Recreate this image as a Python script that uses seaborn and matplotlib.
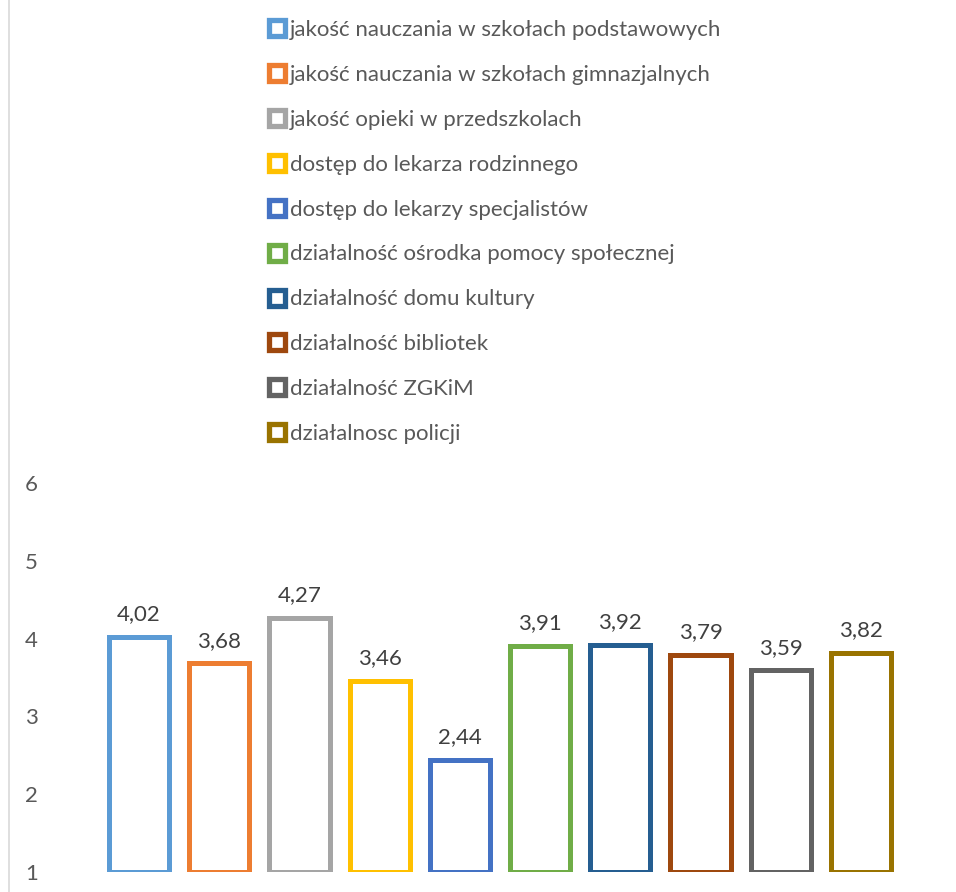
import matplotlib
matplotlib.use("Agg")
import matplotlib.pyplot as plt
from matplotlib.lines import Line2D
import seaborn as sns
import pandas as pd

categories = [
    "jakość nauczania w szkołach podstawowych",
    "jakość nauczania w szkołach gimnazjalnych",
    "jakość opieki w przedszkolach",
    "dostęp do lekarza rodzinnego",
    "dostęp do lekarzy specjalistów",
    "działalność ośrodka pomocy społecznej",
    "działalność domu kultury",
    "działalność bibliotek",
    "działalność ZGKiM",
    "działalnosc policji",
]
values = [4.02, 3.68, 4.27, 3.46, 2.44, 3.91, 3.92, 3.79, 3.59, 3.82]
colors = ["#5B9BD5", "#ED7D31", "#A5A5A5", "#FFC000", "#4472C4",
          "#70AD47", "#255E91", "#9E480E", "#636363", "#997300"]
y_ticks = [1, 2, 3, 4, 5, 6]

sns.set_theme(style="white")
plt.rcParams["font.family"] = ["Lato", "DejaVu Sans"]

df = pd.DataFrame({"cat": categories, "val": values})

fig = plt.figure(figsize=(9.56, 8.92), dpi=100)
ax = fig.add_axes([99 / 956, 20 / 892, 802 / 956, 389 / 892])

sns.barplot(data=df, x="cat", y="val", hue="cat", palette=colors,
            fill=False, linewidth=3.6, width=0.75, legend=False, ax=ax)

# bars rise from the axis minimum (1), as in the original
base = y_ticks[0]
for p in ax.patches:
    p.set_y(base)
    p.set_height(p.get_height() - base)
    p.set_joinstyle("miter")

for cont in ax.containers:
    labs = [f"{v:.2f}".replace(".", ",") for v in cont.datavalues]
    ax.bar_label(cont, labels=labs, padding=9, fontsize=16, color="#404040")

ax.set_ylim(y_ticks[0], y_ticks[-1])
ax.set_yticks(y_ticks)
ax.set_xticks([])
ax.set_xlabel("")
ax.set_ylabel("")
ax.tick_params(axis="y", length=0, pad=44, labelsize=16, labelcolor="#595959")
for s in ax.spines.values():
    s.set_visible(False)

handles = [Line2D([], [], linestyle="none", marker="s", markersize=12,
                  markerfacecolor="white", markeredgecolor=c, markeredgewidth=3.8,
                  label=lab) for c, lab in zip(colors, categories)]
fig.legend(handles=handles, loc="upper left", bbox_to_anchor=(268 / 956, 1 - 20 / 892),
           frameon=False, fontsize=16, labelcolor="#595959", handlelength=0.85,
           handletextpad=0.12, labelspacing=1.12, borderpad=0, borderaxespad=0)

fig.add_artist(Line2D([8.5 / 956, 8.5 / 956], [0, 1], transform=fig.transFigure,
                      color="#D9D9D9", linewidth=1.2))

fig.savefig("out.png", dpi=100)
